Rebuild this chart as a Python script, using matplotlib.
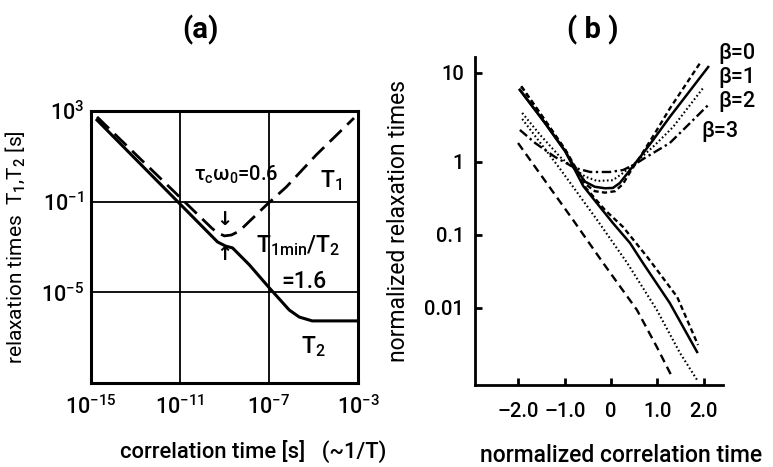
import numpy as np
import matplotlib
matplotlib.use("Agg")
import matplotlib.pyplot as plt
from matplotlib.ticker import NullLocator
from matplotlib import font_manager

names = {f.name for f in font_manager.fontManager.ttflist}
FAM = 'Roboto' if 'Roboto' in names else 'DejaVu Sans'
plt.rcParams['font.family'] = [FAM, 'DejaVu Sans']
plt.rcParams['font.weight'] = 'medium'
plt.rcParams['mathtext.fontset'] = 'custom'
plt.rcParams['mathtext.rm'] = FAM + ':medium'
plt.rcParams['mathtext.it'] = FAM + ':medium'
plt.rcParams['mathtext.bf'] = FAM + ':bold'

# ---------------- panel (a): log10 values ----------------
a_T1_logtau = [-14.73, -9.58, -9.31, -9.0, -8.69, -8.42, -8.19, -7.12, -6.22, -4.88, -3.18]
a_T1_logT   = [2.74, -2.16, -2.38, -2.51, -2.47, -2.34, -2.16, -1.15, -0.35, 1.06, 2.69]
a_T2_logtau = [-14.73, -9.31, -8.95, -8.64, -7.88, -6.98, -6.09, -5.64, -5.06, -3.04]
a_T2_logT   = [2.60, -2.78, -2.96, -3.04, -3.79, -4.81, -5.78, -6.09, -6.26, -6.26]
a_xticks = [1e-15, 1e-11, 1e-7, 1e-3]
a_xticklabels = ['$10^{-15}$', '$10^{-11}$', '$10^{-7}$', '$10^{-3}$']
a_yticks = [1e3, 1e-1, 1e-5]
a_yticklabels = ['$10^{3}$', '$10^{-1}$', '$10^{-5}$']

# ---------------- panel (b): x and log10(y) ----------------
b0_T1_x = [-1.94, -1.43, -0.99, -0.78, -0.56, -0.35, -0.13, 0.09, 0.26, 0.41, 0.63, 0.91, 1.27, 1.94]
b0_T1_ly = [0.85, 0.47, 0.14, -0.06, -0.30, -0.40, -0.42, -0.40, -0.30, -0.14, 0.06, 0.29, 0.60, 1.124]
b0_T2_x = [-1.94, -1.43, -0.99, -0.60, -0.13, 0.26, 0.80, 1.43, 1.88]
b0_T2_ly = [0.85, 0.47, 0.135, -0.315, -0.658, -0.890, -1.315, -1.849, -2.507]

b1_T1_x = [-1.97, -1.43, -0.99, -0.78, -0.56, -0.35, -0.13, 0.04, 0.19, 0.41, 0.63, 0.91, 1.27, 2.10]
b1_T1_ly = [0.81, 0.44, 0.12, -0.08, -0.27, -0.34, -0.36, -0.356, -0.288, -0.11, 0.056, 0.247, 0.506, 1.067]
b1_T2_x = [-1.97, -1.43, -0.99, -0.60, -0.24, 0.04, 0.41, 0.69, 1.27, 1.86]
b1_T2_ly = [0.81, 0.44, 0.12, -0.33, -0.616, -0.836, -1.11, -1.384, -1.932, -2.603]

b2_T1_x = [-1.92, -1.53, -1.10, -0.78, -0.56, -0.30, 0.04, 0.26, 0.52, 0.95, 1.34, 1.99]
b2_T1_ly = [0.551, 0.303, 0.056, -0.10, -0.20, -0.26, -0.25, -0.15, -0.014, 0.191, 0.393, 0.831]
b2_T2_x = [-1.92, -1.10, -0.30, 0.35, 0.99, 1.49, 1.86]
b2_T2_ly = [0.483, -0.096, -0.795, -1.384, -2.027, -2.616, -2.986]

b3_T1_x = [-1.97, -1.64, -1.21, -0.78, -0.45, -0.02, 0.26, 0.52, 0.73, 1.27, 1.71, 2.10]
b3_T1_ly = [0.36, 0.213, 0.056, -0.082, -0.137, -0.137, -0.11, -0.03, 0.045, 0.213, 0.438, 0.640]
b3_T2_x = [-2.01, -0.82, -0.17, 0.56, 0.99, 1.32]
b3_T2_ly = [0.213, -0.795, -1.384, -2.027, -2.534, -2.945]

b_xticks = [-2.0, -1.0, 0.0, 1.0, 2.0]
b_xticklabels = ['\u20132.0', '\u20131.0', '0', '1.0', '2.0']
b_yticks = [10, 1, 0.1, 0.01]
b_yticklabels = ['10', '1', '0.1', '0.01']
beta_labels = ['\u03b2=0', '\u03b2=1', '\u03b2=2', '\u03b2=3']

W, H = 773, 467
fig = plt.figure(figsize=(W / 100, H / 100), dpi=100)
FS = 14.5

# ================= panel (a) =================
axa = fig.add_axes([91 / W, 1 - 383 / H, (358 - 91) / W, (383 - 111) / H])
axa.set_xscale('log')
axa.set_yscale('log')
axa.plot(10 ** np.array(a_T1_logtau), 10 ** np.array(a_T1_logT), color='k', lw=2.0,
         dashes=(6, 2.8), solid_capstyle='butt')
axa.plot(10 ** np.array(a_T2_logtau), 10 ** np.array(a_T2_logT), color='k', lw=2.2)
axa.set_xlim(1e-15, 1e-3)
axa.set_ylim(1e-9, 1e3)
axa.set_xticks(a_xticks)
axa.set_xticklabels(a_xticklabels, fontsize=FS + 1)
axa.set_yticks(a_yticks)
axa.set_yticklabels(a_yticklabels, fontsize=FS + 1)
axa.xaxis.set_minor_locator(NullLocator())
axa.yaxis.set_minor_locator(NullLocator())
axa.tick_params(length=0, pad=5)
axa.tick_params(axis='x', pad=9)
axa.grid(True, which='major', color='k', lw=1.3)
for s in axa.spines.values():
    s.set_linewidth(2.2)
axa.set_ylabel('relaxation times  T$_1$,T$_2$ [s]', fontsize=FS + 0.5, labelpad=10)

axa.text(10 ** -8.45, 10 ** 0.18, r'$\tau_c\omega_0$=0.6', fontsize=FS, ha='center', va='center')
axa.text(10 ** -4.21, 10 ** -0.09, 'T$_1$', fontsize=FS + 2, ha='center', va='center')
axa.text(10 ** -7.6, 10 ** -2.95, 'T$_{1\\mathrm{min}}$/T$_2$', fontsize=FS + 2, ha='left', va='center')
axa.text(10 ** -5.42, 10 ** -4.50, '=1.6', fontsize=FS + 2, ha='center', va='center')
axa.text(10 ** -5.01, 10 ** -7.41, 'T$_2$', fontsize=FS + 2, ha='center', va='center')
axa.text(10 ** -9.0, 10 ** -1.78, '\u2193', fontsize=14, fontweight='bold', ha='center', va='center',
         family='DejaVu Sans')
axa.text(10 ** -9.0, 10 ** -3.35, '\u2191', fontsize=14, fontweight='bold', ha='center', va='center',
         family='DejaVu Sans')

fig.text(200 / W, 1 - 30 / H, '(a)', fontsize=21, fontweight='bold', ha='center', va='center')
fig.text(253 / W, 1 - 451 / H, 'correlation time [s]   (~1/T)', fontsize=15.8,
         ha='center', va='center')

# ================= panel (b) =================
k = 89.0 / 73.0

def fwd(y):
    l = np.log10(np.clip(np.asarray(y, dtype=float), 1e-300, None))
    return np.where(l > 0, l * k, l)

def inv(u):
    u = np.asarray(u, dtype=float)
    return 10 ** np.where(u > 0, u / k, u)

axb = fig.add_axes([475 / W, 1 - 385 / H, (723 - 475) / W, (385 - 57) / H])
axb.set_yscale('function', functions=(fwd, inv))

def pl(x, ly, **kw):
    axb.plot(x, 10 ** np.array(ly), color='k', **kw)

dash0 = dict(lw=1.7, dashes=(2.2, 1.4))
solid1 = dict(lw=1.8)
dot2 = dict(lw=1.5, dashes=(0.8, 1.2))
dd3 = dict(lw=1.7, dashes=(4, 1.5, 1, 1.5))
longd3 = dict(lw=1.7, dashes=(3.5, 2.2))

pl(b0_T1_x, b0_T1_ly, **dash0)
pl(b0_T2_x, b0_T2_ly, **dash0)
pl(b1_T1_x, b1_T1_ly, **solid1)
pl(b1_T2_x, b1_T2_ly, **solid1)
pl(b2_T1_x, b2_T1_ly, **dot2)
pl(b2_T2_x, b2_T2_ly, **dot2)
pl(b3_T1_x, b3_T1_ly, **dd3)
pl(b3_T2_x, b3_T2_ly, **longd3)

axb.set_xlim(-2.94, 2.42)
axb.set_ylim(inv(-3.055), inv(1.438))
axb.set_xticks(b_xticks)
axb.set_xticklabels(b_xticklabels, fontsize=FS)
axb.set_yticks(b_yticks)
axb.set_yticklabels(b_yticklabels, fontsize=FS)
axb.xaxis.set_minor_locator(NullLocator())
axb.yaxis.set_minor_locator(NullLocator())
axb.tick_params(direction='in', length=5, width=2, pad=8)
axb.tick_params(axis='x', pad=12)
axb.spines['top'].set_visible(False)
axb.spines['right'].set_visible(False)
for s in ('left', 'bottom'):
    axb.spines[s].set_linewidth(2.0)
axb.set_ylabel('normalized relaxation times', fontsize=16.5, labelpad=10)

fig.text(737 / W, 1 - 53 / H, beta_labels[0], fontsize=FS + 1, ha='center', va='center')
fig.text(737 / W, 1 - 77 / H, beta_labels[1], fontsize=FS + 1, ha='center', va='center')
fig.text(737 / W, 1 - 101 / H, beta_labels[2], fontsize=FS + 1, ha='center', va='center')
fig.text(720 / W, 1 - 131 / H, beta_labels[3], fontsize=FS + 1, ha='center', va='center')

fig.text(593 / W, 1 - 30 / H, '( b )', fontsize=21, fontweight='bold', ha='center', va='center')
fig.text(621 / W, 1 - 455 / H, 'normalized correlation time', fontsize=16.5,
         ha='center', va='center')

fig.savefig('out.png', dpi=100)
